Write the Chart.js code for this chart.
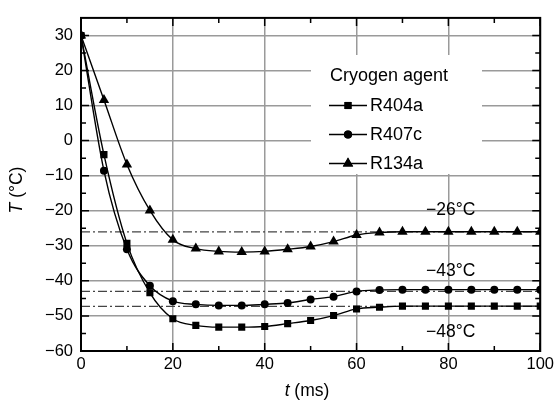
<!DOCTYPE html>
<html><head><meta charset="utf-8">
<script src="https://cdn.jsdelivr.net/npm/chart.js@4/dist/chart.umd.min.js"></script>
<style>html,body{margin:0;padding:0;background:#fff}#wrap{width:558px;height:401px}</style>
</head><body><div id="wrap"><canvas id="c" width="558" height="401"></canvas></div>
<script>
const time = [0,5,10,15,20,25,30,35,40,45,50,55,60,65,70,75,80,85,90,95,100];
const r404a = [30,-4,-29.3,-43.4,-50.8,-52.7,-53.2,-53.2,-53,-52.2,-51.3,-49.9,-48,-47.5,-47.2,-47.2,-47.2,-47.2,-47.2,-47.2,-47.2];
const r407c = [30,-8.6,-31,-41.4,-45.8,-46.7,-47,-47,-46.7,-46.3,-45.3,-44.5,-43,-42.6,-42.5,-42.5,-42.5,-42.5,-42.5,-42.5,-42.5];
const r134a = [30,11.6,-6.8,-19.9,-28.3,-30.8,-31.6,-31.8,-31.6,-31,-30.2,-28.8,-26.9,-26.2,-26,-26,-26,-26,-26,-26,-26];
const seriesNames = ['R404a','R407c','R134a'];
const refValues = [-26,-43,-47.3];
const refLabels = ['\u221226\u00b0C','\u221243\u00b0C','\u221248\u00b0C'];
const refLabelValues = [-19.8,-37.3,-54.6];
const xTicks = [0,20,40,60,80,100];
const yTicks = [-60,-50,-40,-30,-20,-10,0,10,20,30];
const xMinor = [10,30,50,70,90];
const yMinor = [-55,-45,-35,-25,-15,-5,5,15,25];

const FONT = '"Liberation Sans", Arial, sans-serif';
const pts = arr => time.map((t,i)=>({x:t,y:arr[i]}));
const refDs = refValues.map(v=>({
  data: [{x:0,y:v},{x:100,y:v}], borderColor:'#444', borderWidth:1.3,
  borderDash:[9,3,2,3], pointRadius:0, order:5, clip:0
}));
const mk = (arr, style, r) => ({
  data: pts(arr), borderColor:'#000', backgroundColor:'#000', borderWidth:1.4,
  pointStyle: style, pointRadius: r, pointBorderWidth:0, cubicInterpolationMode:'monotone',
  order:1, clip:0
});

const extras = {
  id:'extras',
  beforeDatasetsDraw(chart){
    const ctx = chart.ctx;
    ctx.save();
    ctx.fillStyle='#fff';
    ctx.fillRect(311,55,171,119);
    ctx.fillStyle='#000';
    ctx.font='18px '+FONT;
    ctx.textBaseline='middle';
    ctx.textAlign='left';
    ctx.fillText('Cryogen agent',330,76);
    const styles=['rect','circle','triangle'];
    const radii=[5,4,6];
    seriesNames.forEach((n,i)=>{
      const y=105.5+i*29;
      ctx.strokeStyle='#000'; ctx.lineWidth=1.4;
      ctx.beginPath(); ctx.moveTo(329,y); ctx.lineTo(367,y); ctx.stroke();
      Chart.helpers.drawPoint(ctx,{pointStyle:styles[i],radius:radii[i],borderWidth:0,rotation:0},348,y);
      ctx.fillStyle='#000';
      ctx.fill();
      ctx.fillText(n,370,y+1);
    });
    ctx.restore();
  },
  afterDraw(chart){
    const ctx=chart.ctx, a=chart.chartArea, xs=chart.scales.x, ys=chart.scales.y;
    ctx.save();
    ctx.strokeStyle='#000'; ctx.lineWidth=1.5;
    xTicks.forEach(v=>{const x=xs.getPixelForValue(v);
      ctx.beginPath();ctx.moveTo(x,a.bottom);ctx.lineTo(x,a.bottom-8);ctx.moveTo(x,a.top);ctx.lineTo(x,a.top+8);ctx.stroke();});
    xMinor.forEach(v=>{const x=xs.getPixelForValue(v);
      ctx.beginPath();ctx.moveTo(x,a.bottom);ctx.lineTo(x,a.bottom-5);ctx.moveTo(x,a.top);ctx.lineTo(x,a.top+5);ctx.stroke();});
    yTicks.forEach(v=>{const y=ys.getPixelForValue(v);
      ctx.beginPath();ctx.moveTo(a.left,y);ctx.lineTo(a.left+8,y);ctx.moveTo(a.right,y);ctx.lineTo(a.right-8,y);ctx.stroke();});
    yMinor.forEach(v=>{const y=ys.getPixelForValue(v);
      ctx.beginPath();ctx.moveTo(a.left,y);ctx.lineTo(a.left+5,y);ctx.moveTo(a.right,y);ctx.lineTo(a.right-5,y);ctx.stroke();});
    ctx.lineWidth=2;
    ctx.strokeRect(a.left,a.top,a.right-a.left,a.bottom-a.top);
    // ref labels
    ctx.fillStyle='#000'; ctx.font='17.5px '+FONT; ctx.textAlign='center'; ctx.textBaseline='middle';
    refLabels.forEach((t,i)=>ctx.fillText(t,xs.getPixelForValue(80.5),ys.getPixelForValue(refLabelValues[i])));
    const drawMixed=(parts,cx,cy)=>{
      let w=0; parts.forEach(p=>{ctx.font=(p[1]?'italic ':'')+'17.5px '+FONT; w+=ctx.measureText(p[0]).width;});
      let x=cx-w/2; ctx.textAlign='left';
      parts.forEach(p=>{ctx.font=(p[1]?'italic ':'')+'17.5px '+FONT; ctx.fillText(p[0],x,cy); x+=ctx.measureText(p[0]).width;});
    };
    drawMixed([['t',true],[' (ms)',false]],307,391);
    ctx.save(); ctx.translate(17,190); ctx.rotate(-Math.PI/2);
    drawMixed([['T',true],[' (\u00b0C)',false]],0,0);
    ctx.restore();
    ctx.restore();
  }
};

new Chart(document.getElementById('c'),{
  type:'line',
  data:{datasets:[mk(r404a,'rect',5),mk(r407c,'circle',4),mk(r134a,'triangle',6),...refDs]},
  options:{
    responsive:false, animation:false, events:[],
    layout:{padding:{left:0,right:15,top:15,bottom:0}},
    plugins:{legend:{display:false},tooltip:{enabled:false}},
    scales:{
      x:{type:'linear',min:0,max:100,
        afterFit(s){s.height=50;},
        afterBuildTicks(s){s.ticks=xTicks.map(v=>({value:v}));},
        grid:{color:'#9a9a9a',lineWidth:1.5,drawTicks:false},
        border:{display:false},
        ticks:{color:'#000',font:{family:FONT,size:16.5},padding:4,maxRotation:0,autoSkip:false,callback:v=>String(v)}},
      y:{type:'linear',min:-60,max:35,
        afterFit(s){s.width=81;},
        afterBuildTicks(s){s.ticks=yTicks.map(v=>({value:v}));},
        grid:{color:'#9a9a9a',lineWidth:1.5,drawTicks:false},
        border:{display:false},
        ticks:{color:'#000',font:{family:FONT,size:16.5},padding:8,autoSkip:false,callback:v=>v<0?'\u2212'+Math.abs(v):String(v)}}
    }
  },
  plugins:[extras]
});
</script></body></html>
